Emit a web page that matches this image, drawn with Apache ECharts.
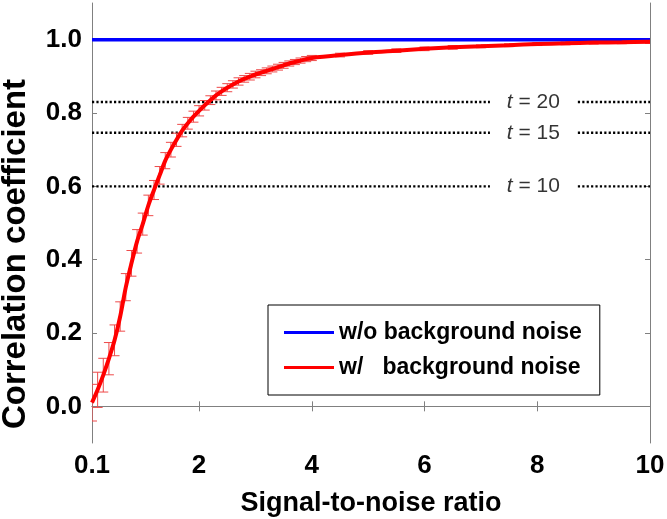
<!DOCTYPE html>
<html>
<head>
    <meta charset="utf-8">
    <title>Correlation coefficient vs SNR</title>
    <script src="https://cdn.jsdelivr.net/npm/echarts@6/dist/echarts.min.js"></script>
    <style>
        html, body { margin: 0; padding: 0; background: #fff; }
        #chart { width: 667px; height: 519px; }
    </style>
</head>
<body>
<div id="chart"></div>
<script>
    // signal-to-noise ratio samples
    var snr = [0.1, 0.2, 0.3, 0.4, 0.5, 0.6, 0.7, 0.8, 0.9, 1.0,
        1.1, 1.2, 1.3, 1.4, 1.5, 1.6, 1.7, 1.8, 1.9, 2.0,
        2.1, 2.2, 2.3, 2.4, 2.5, 2.6, 2.7, 2.8, 2.9, 3.0,
        3.1, 3.2, 3.3, 3.4, 3.5, 3.6, 3.7, 3.8, 3.9, 4.0,
        4.5, 5.0, 5.5, 6.0, 6.5, 7.0, 7.5, 8.0, 8.5, 9.0, 9.5, 10];
    // w/ background noise (mean correlation)
    var corrNoise = [0.01, 0.045, 0.085, 0.13, 0.18, 0.245, 0.325, 0.39, 0.45, 0.497,
        0.548, 0.59, 0.63, 0.67, 0.70, 0.727, 0.752, 0.772, 0.79, 0.806,
        0.821, 0.835, 0.848, 0.859, 0.869, 0.878, 0.886, 0.893, 0.899, 0.905,
        0.910, 0.915, 0.920, 0.925, 0.930, 0.935, 0.939, 0.943, 0.947, 0.950,
        0.958, 0.965, 0.970, 0.975, 0.979, 0.982, 0.985, 0.988, 0.990, 0.992, 0.993, 0.994];
    // error bar half-widths
    var corrErr = [0.05, 0.048, 0.046, 0.044, 0.042, 0.04, 0.037, 0.035, 0.032, 0.03,
        0.028, 0.026, 0.024, 0.022, 0.02, 0.018, 0.017, 0.016, 0.015, 0.014,
        0.013, 0.012, 0.012, 0.011, 0.011, 0.010, 0.010, 0.009, 0.009, 0.009,
        0.008, 0.008, 0.008, 0.008, 0.008, 0.007, 0.007, 0.007, 0.007, 0.007,
        0.005, 0.005, 0.005, 0.005, 0.005, 0.004, 0.004, 0.004, 0.004, 0.004, 0.004, 0.004];
    // w/o background noise
    var cleanX = [0.1, 10];
    var cleanY = [1.0, 1.0];
    // threshold lines
    var thrT = [20, 15, 10];
    var thrR = [0.83, 0.746, 0.6];
    var xTicks = [0.1, 2, 4, 6, 8, 10];
    var yTicks = [0, 0.2, 0.4, 0.6, 0.8, 1.0];

    var FONT = '"Liberation Sans", Arial, sans-serif';
    var gapL = 7.16, gapR = 8.72, labelX = 7.93;

    function pairs(xs, ys) {
        return xs.map(function (x, i) { return [x, ys[i]]; });
    }

    var series = [];

    // dotted threshold lines, broken around the text
    thrR.forEach(function (v, i) {
        [[0.1, gapL], [gapR, 10]].forEach(function (seg) {
            series.push({
                type: 'line',
                silent: true,
                symbol: 'none',
                data: [[seg[0], v], [seg[1], v]],
                lineStyle: { color: '#000', width: 2.4, type: [2.2, 2.2] },
                z: 1
            });
        });
    });
    series.push({
        type: 'scatter',
        symbolSize: 0,
        silent: true,
        data: thrR.map(function (v, i) { return [labelX, v, thrT[i]]; }),
        label: {
            show: true,
            position: 'inside',
            color: '#000',
            fontFamily: FONT,
            fontSize: 21,
            formatter: function (p) { return '{it|t} = ' + p.value[2]; },
            rich: { it: { fontStyle: 'italic', fontFamily: FONT, fontSize: 21, color: '#000' } }
        },
        z: 2
    });

    // error bars
    series.push({
        type: 'custom',
        silent: true,
        clip: true,
        data: snr.map(function (x, i) { return [x, corrNoise[i], corrErr[i]]; }),
        renderItem: function (params, api) {
            var x = api.value(0), y = api.value(1), e = api.value(2);
            var lo = api.coord([x, y - e]);
            var hi = api.coord([x, y + e]);
            var w = 5;
            var st = { stroke: '#ee4a4a', lineWidth: 1 };
            return {
                type: 'group',
                children: [
                    { type: 'line', shape: { x1: lo[0], y1: lo[1], x2: hi[0], y2: hi[1] }, style: st },
                    { type: 'line', shape: { x1: lo[0] - w, y1: lo[1], x2: lo[0] + w, y2: lo[1] }, style: st },
                    { type: 'line', shape: { x1: hi[0] - w, y1: hi[1], x2: hi[0] + w, y2: hi[1] }, style: st }
                ]
            };
        },
        z: 3
    });

    series.push({
        name: 'w/o background noise',
        type: 'line',
        symbol: 'none',
        data: pairs(cleanX, cleanY),
        lineStyle: { color: '#0000ff', width: 3.5 },
        itemStyle: { color: '#0000ff' },
        z: 4
    });
    series.push({
        name: 'w/   background noise',
        type: 'line',
        symbol: 'none',
        smooth: 0.3,
        data: pairs(snr, corrNoise),
        lineStyle: { color: '#ff0000', width: 4 },
        itemStyle: { color: '#ff0000' },
        z: 5
    });

    var axisLineStyle = { show: true, lineStyle: { color: '#808080', width: 1 } };

    var chart = echarts.init(document.getElementById('chart'));
    chart.setOption({
        animation: false,
        backgroundColor: '#fff',
        grid: { left: 92, right: 17, top: 3, bottom: 76, outerBoundsMode: 'none', containLabel: false },
        legend: {
            data: ['w/o background noise', 'w/   background noise'],
            orient: 'vertical',
            left: 268,
            top: 305,
            padding: [16, 18, 16, 16],
            itemGap: 12,
            itemWidth: 50,
            itemHeight: 3,
            icon: 'rect',
            borderColor: '#000',
            borderWidth: 1,
            backgroundColor: '#fff',
            textStyle: { color: '#000', fontFamily: FONT, fontSize: 23, fontWeight: 'bold', lineHeight: 23 }
        },
        xAxis: [{
            type: 'value',
            min: 0.1,
            max: 10,
            position: 'bottom',
            name: 'Signal-to-noise ratio',
            nameLocation: 'middle',
            nameGap: 47,
            nameTextStyle: { color: '#000', fontFamily: FONT, fontSize: 27, fontWeight: 'bold' },
            axisLine: axisLineStyle,
            axisTick: { show: true, inside: true, length: 5, customValues: xTicks, lineStyle: { color: '#808080' } },
            axisLabel: {
                customValues: xTicks,
                margin: 10,
                color: '#000',
                fontFamily: FONT,
                fontSize: 26,
                fontWeight: 'bold',
                formatter: function (v) { return String(v); }
            },
            splitLine: { show: false }
        }, {
            type: 'value',
            min: 0.1,
            max: 10,
            position: 'top',
            axisLine: axisLineStyle,
            axisTick: { show: true, inside: true, length: 5, customValues: xTicks, lineStyle: { color: '#808080' } },
            axisLabel: { show: false },
            splitLine: { show: false }
        }],
        yAxis: [{
            type: 'value',
            min: -0.1,
            max: 1.1,
            position: 'left',
            name: 'Correlation coefficient',
            nameLocation: 'middle',
            nameGap: 60,
            nameTextStyle: {
                color: '#000', fontFamily: FONT, fontSize: 33, fontWeight: 'bold',
                padding: [0, 62, 0, 0]
            },
            axisLine: axisLineStyle,
            axisTick: { show: true, inside: true, length: 5, customValues: yTicks, lineStyle: { color: '#808080' } },
            axisLabel: {
                customValues: yTicks,
                margin: 10,
                color: '#000',
                fontFamily: FONT,
                fontSize: 26,
                fontWeight: 'bold',
                formatter: function (v) { return v.toFixed(1); }
            },
            splitLine: { show: false }
        }, {
            type: 'value',
            min: -0.1,
            max: 1.1,
            position: 'right',
            axisLine: axisLineStyle,
            axisTick: { show: true, inside: true, length: 5, customValues: yTicks, lineStyle: { color: '#808080' } },
            axisLabel: { show: false },
            splitLine: { show: false }
        }],
        series: series
    });
</script>
</body>
</html>
